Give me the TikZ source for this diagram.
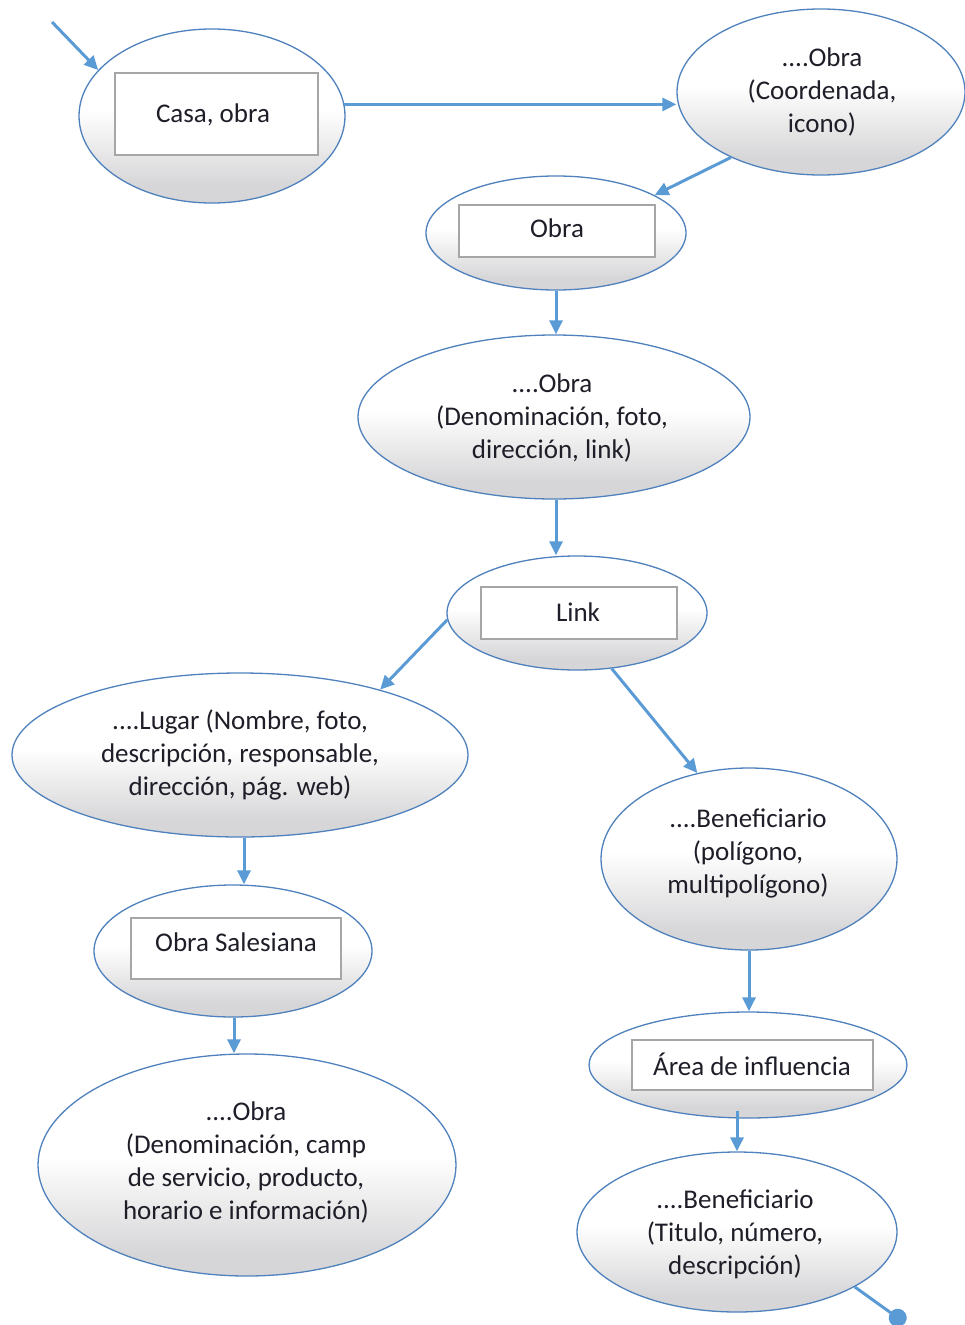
\documentclass[tikz,border=0pt]{standalone}
\usepackage{fontspec}
\setmainfont{Carlito}
\usetikzlibrary{shapes.geometric,arrows.meta}
\definecolor{edgeblue}{HTML}{4F81BD}
\definecolor{arrowblue}{HTML}{5B9BD5}
\definecolor{shadegray}{HTML}{D6D6D8}
\definecolor{boxgray}{HTML}{A6A6A6}
\definecolor{inktext}{HTML}{1E1E28}
% white upper half fading to light grey at the bottom
\pgfdeclareverticalshading{bubbleshade}{100bp}{color(0bp)=(shadegray); color(30bp)=(shadegray); color(52bp)=(white); color(100bp)=(white)}
\tikzset{
  bubble/.style={ellipse, draw=edgeblue, line width=1.3pt, inner sep=0pt,
    shading=bubbleshade},
  tag/.style={rectangle, draw=boxgray, line width=1.2pt, fill=white, inner sep=0pt},
  txt/.style={align=center, text=inktext, font=\fontsize{27}{33}\selectfont},
  flow/.style={draw=arrowblue, line width=3pt,
    -{Triangle[length=14pt,width=13pt]}},
  dotend/.style={draw=arrowblue, line width=3pt, -{Circle[length=18pt]}}
}
\begin{document}
\begin{tikzpicture}[x=1pt,y=-1pt]
\useasboundingbox (0,0) rectangle (965,1325);

% ellipses
\node[bubble, minimum width=266pt, minimum height=174pt] (casa) at (212,116) {};
\node[bubble, minimum width=288pt, minimum height=166pt] (coord) at (821,92) {};
\node[bubble, minimum width=260pt, minimum height=114pt] (obra) at (556,233) {};
\node[bubble, minimum width=392pt, minimum height=164pt] (denom) at (554,417) {};
\node[bubble, minimum width=260pt, minimum height=114pt] (link) at (577,613) {};
\node[bubble, minimum width=456pt, minimum height=164pt] (lugar) at (240,755) {};
\node[bubble, minimum width=296pt, minimum height=182pt] (benef) at (749,859) {};
\node[bubble, minimum width=278pt, minimum height=132pt] (sales) at (233,951) {};
\node[bubble, minimum width=318pt, minimum height=106pt] (area) at (748,1065) {};
\node[bubble, minimum width=418pt, minimum height=222pt] (servicio) at (247,1165) {};
\node[bubble, minimum width=320pt, minimum height=160pt] (titulo) at (737,1232) {};

% inner boxes
\node[tag, minimum width=203pt, minimum height=82pt] (casabox) at (216.5,114) {};
\node[tag, minimum width=196pt, minimum height=52pt] (obrabox) at (557,231) {};
\node[tag, minimum width=196pt, minimum height=52pt] (linkbox) at (579,613) {};
\node[tag, minimum width=210pt, minimum height=61pt] (salesbox) at (236,948.5) {};
\node[tag, minimum width=241pt, minimum height=50pt] (areabox) at (752.5,1065) {};

% labels
\node[txt] (tcasa) at (213,115) {Casa, obra};
\node[txt] (tcoord) at (822,92) {....Obra\\(Coordenada,\\icono)};
\node[txt] (tobra) at (557,228) {Obra};
\node[txt] (tdenom) at (552,418) {....Obra\\(Denominación, foto,\\dirección, link)};
\node[txt] (tlink) at (578,612) {Link};
\node[txt] (tlugar) at (240,755) {....Lugar (Nombre, foto,\\descripción, responsable,\\dirección, pág. web)};
\node[txt] (tbenef) at (748,853) {....Beneficiario\\(polígono,\\multipolígono)};
\node[txt] (tsales) at (236,942) {Obra Salesiana};
\node[txt] (tarea) at (752,1064) {Área de influencia};
\node[txt] (tservicio) at (246,1162) {....Obra\\(Denominación, camp\\de servicio, producto,\\horario e información)};
\node[txt] (ttitulo) at (735,1234) {....Beneficiario\\(Titulo, número,\\descripción)};

% connectors
\coordinate (entry) at (52,22);
\coordinate (exit) at (905,1323);
\draw[flow] (entry) -- (casa.158);
\draw[flow] (casa.5.6) -- (casa.5.6 -| coord.west);
\draw[flow] (coord.216) -- (obra.21.9);
\draw[flow] (obra.south) -- (obra.south |- denom.north);
\draw[flow] (denom.south -| obra.south) -- (link.north -| obra.south);
\draw[flow] (link.183.5) -- (lugar.25.5);
\draw[flow] (link.-58.3) -- (benef.121.5);
\draw[flow] (lugar.south -| 244,0) -- (sales.north -| 244,0);
\draw[flow] (benef.south) -- (area.north -| benef.south);
\draw[flow] (sales.south -| 234,0) -- (servicio.north -| 234,0);
\draw[flow] (area.south -| titulo.north) ++(0,-8) -- (titulo.north);
\draw[dotend] (titulo.-25) -- (exit);
\end{tikzpicture}
\end{document}
